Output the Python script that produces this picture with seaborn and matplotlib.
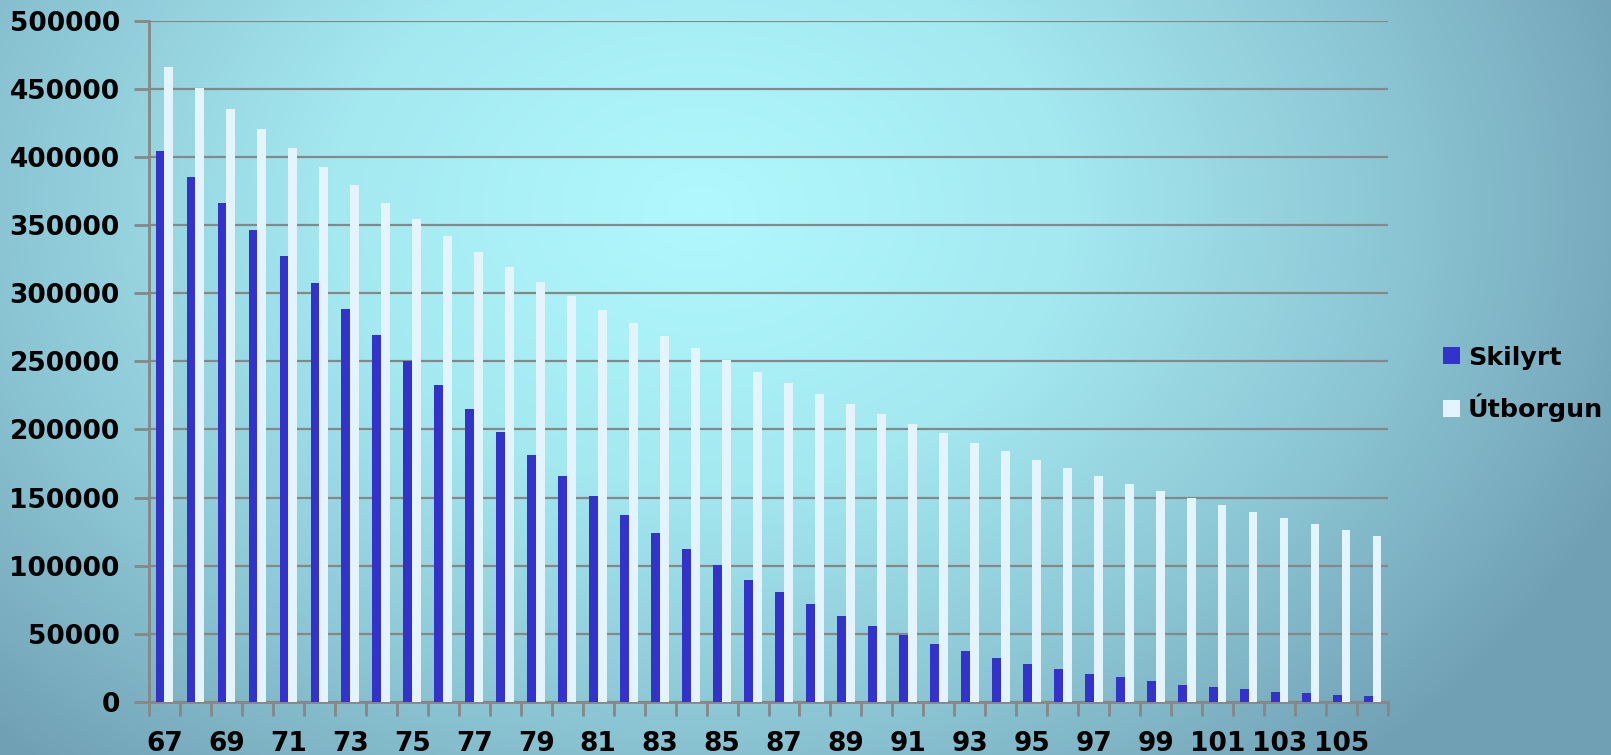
import numpy as np
import pandas as pd
import matplotlib
matplotlib.use("Agg")
import matplotlib.pyplot as plt
from matplotlib.colors import LinearSegmentedColormap
from matplotlib.patches import Patch
import seaborn as sns

# Age (years) on the x axis
ages = list(range(67, 107))

# Conditional amount per age
skilyrt = [403900, 385000, 366000, 346600, 327100, 307500, 288400, 269300, 250500, 232300,
           214700, 197800, 181400, 165900, 151100, 137200, 123900, 111900, 100500, 89800,
           80400, 71600, 63000, 55500, 49000, 42700, 37200, 32300, 27900, 24100,
           20800, 18100, 15200, 12700, 10800, 9300, 7600, 6400, 5100, 4200]

# Payout per age
utborgun = [466200, 450200, 435100, 420500, 406300, 392600, 379400, 366400, 354000, 342000,
            330500, 319500, 308500, 298200, 287800, 278200, 268800, 259700, 250900, 242300,
            234200, 226100, 218600, 211000, 204000, 197000, 190200, 184000, 177400, 171800,
            166000, 160100, 155000, 149900, 144500, 139600, 135000, 130300, 126100, 121700]

series_names = ["Skilyrt", "Útborgun"]
series_colors = ["#3333CC", "#E4F4FE"]

df = pd.DataFrame({
    "age": [str(a) for a in ages] * 2,
    "value": skilyrt + utborgun,
    "series": [series_names[0]] * len(ages) + [series_names[1]] * len(ages),
})

sns.set_theme(style="white")
plt.rcParams["font.family"] = ["DejaVu Sans"]
plt.rcParams["font.weight"] = "bold"
plt.rcParams["text.color"] = "black"

W, H = 1611, 755
fig = plt.figure(figsize=(W / 100, H / 100), dpi=100)

# Radial backdrop: bright cyan centre fading to a steel-blue edge
bg = fig.add_axes([0, 0, 1, 1], zorder=-10)
yy, xx = np.mgrid[0:H, 0:W]
cx, cy, rx, ry = 700.0, 210.0, 1000.0, 740.0
d = np.sqrt(((xx - cx) / rx) ** 2 + ((yy - cy) / ry) ** 2)
d = np.clip(d, 0, 1)
cmap = LinearSegmentedColormap.from_list("bg", ["#B0F8FD", "#A4E8F0", "#8CC6D4", "#70A0B4"], N=256)
bg.imshow(d ** 1.1, cmap=cmap, vmin=0, vmax=1, aspect="auto", interpolation="bilinear")
bg.set_axis_off()

ax = fig.add_axes([149 / W, (H - 702) / H, 1239 / W, (702 - 20.5) / H])
ax.set_facecolor("none")

sns.barplot(data=df, x="age", y="value", hue="series", palette=series_colors,
            width=0.5714, saturation=1, ax=ax, legend=False, zorder=3,
            linewidth=0, edgecolor="none")

ax.set_xlim(-0.5, len(ages) - 0.5)
ax.set_ylim(0, 500000)
ax.set_xlabel("")
ax.set_ylabel("")

tick_fs = 19
grid_c = "#878787"
ax.set_yticks(np.arange(0, 500001, 50000))
ax.set_yticklabels([str(v) for v in range(0, 500001, 50000)], fontsize=tick_fs, fontweight="bold", color="black")
ax.yaxis.grid(True, color=grid_c, linewidth=1.6, zorder=1)
ax.xaxis.grid(False)
ax.set_axisbelow(True)

# Category labels on every other age, tick marks between categories
ax.set_xticks(range(0, len(ages), 2))
ax.set_xticklabels([str(a) for a in ages[::2]], fontsize=tick_fs, fontweight="bold", color="black")
ax.set_xticks(np.arange(-0.5, len(ages), 1.0), minor=True)
ax.tick_params(axis="x", which="major", length=0, pad=21)
ax.tick_params(axis="x", which="minor", length=10, width=2, color=grid_c, direction="out", bottom=True)
ax.tick_params(axis="y", which="major", length=11, width=2, color=grid_c, direction="out", pad=10, left=True)

for side in ["top", "right"]:
    ax.spines[side].set_visible(False)
for side in ["left", "bottom"]:
    ax.spines[side].set_color(grid_c)
    ax.spines[side].set_linewidth(2)

handles = [Patch(facecolor=c, edgecolor="none") for c in series_colors]
fig.legend(handles, series_names, loc="center left", bbox_to_anchor=(1420 / W, 1 - 384 / H),
           frameon=False, prop={"size": 18.3, "weight": "bold"}, labelcolor="black",
           handlelength=0.68, handleheight=0.68, handletextpad=0.3, labelspacing=0.95)

fig.savefig("out.png", dpi=100)
